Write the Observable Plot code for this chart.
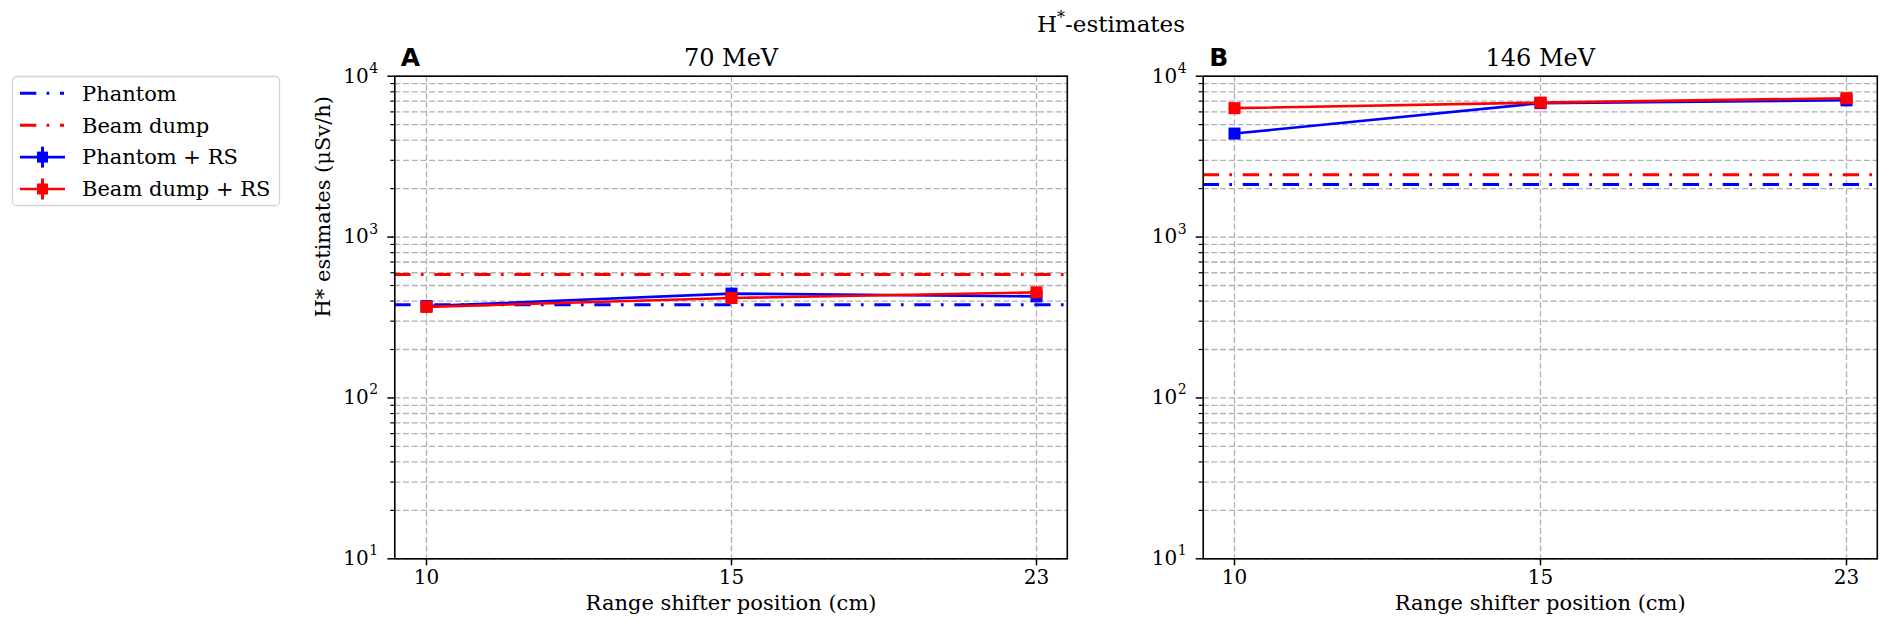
<!DOCTYPE html>
<html>
<head>
<meta charset="utf-8">
<script src="https://cdn.jsdelivr.net/npm/d3@7"></script>
<script src="https://cdn.jsdelivr.net/npm/@observablehq/plot@0.6"></script>
<style>
  body { margin: 0; background: white; }
  #page { position: relative; width: 1890px; height: 632px; font-family: "DejaVu Serif", serif; }
  #page > div, #page > svg { position: absolute; top: 0; }
</style>
</head>
<body>
<div id="page"></div>
<script>
// range shifter positions (categorical ticks)
const positions = ["10", "15", "23"];

// 70 MeV
const phantom70 = 380;
const beamDump70 = 586;
const phantomRS70 = [372, 445, 428];
const phantomRS70Err = [30, 36, 34];
const beamDumpRS70 = [368, 418, 453];
const beamDumpRS70Err = [32, 34, 36];

// 146 MeV
const phantom146 = 2120;
const beamDump146 = 2440;
const phantomRS146 = [4400, 6800, 7080];
const phantomRS146Err = [300, 450, 480];
const beamDumpRS146 = [6330, 6850, 7300];
const beamDumpRS146Err = [420, 460, 500];

const majorTicks = [10, 100, 1000, 10000];
const exponents = ["1", "2", "3", "4"];
const minorTicks = [10, 100, 1000].flatMap(k => [2, 3, 4, 5, 6, 7, 8, 9].map(m => m * k));

const dashDot = "16.3,10.3,2.7,10.7";
const gridStyle = {stroke: "#b0b0b0", strokeOpacity: 1, strokeWidth: 1.3, strokeDasharray: "6,2.7"};

function rows(vals, errs) {
  return positions.map((p, i) => ({pos: p, v: vals[i], lo: vals[i] - errs[i], hi: vals[i] + errs[i]}));
}

function series(data, color) {
  return [
    Plot.line(data, {x: "pos", y: "v", stroke: color, strokeWidth: 2.6}),
    Plot.ruleX(data, {x: "pos", y1: "lo", y2: "hi", stroke: color, strokeWidth: 2.6}),
    Plot.dot(data, {x: "pos", y: "v", symbol: "square", r: 6.8, fill: color, stroke: "none"})
  ];
}

function panel(cfg) {
  const blue = rows(cfg.phRS, cfg.phErr);
  const red = rows(cfg.bdRS, cfg.bdErr);
  const marks = [
    Plot.gridY(minorTicks.concat(majorTicks), gridStyle),
    Plot.gridX(positions, gridStyle),
    Plot.ruleY([cfg.phantom], {stroke: "blue", strokeWidth: 3, strokeDasharray: dashDot}),
    Plot.ruleY([cfg.beamDump], {stroke: "red", strokeWidth: 3, strokeDasharray: dashDot}),
    ...series(blue, "blue"),
    ...series(red, "red"),
    Plot.frame({stroke: "black", strokeWidth: 1.6}),
    Plot.axisY(majorTicks, {tickSize: 7, tickFormat: () => "", strokeWidth: 1.5, label: null}),
    Plot.axisY(minorTicks, {tickSize: 4, tickFormat: () => "", strokeWidth: 1.2, label: null}),
    // y tick labels as 10 with a superscript exponent
    Plot.text(majorTicks, {y: d => d, frameAnchor: "left", text: () => "10", textAnchor: "end", dx: -26, lineAnchor: "middle", fontSize: 20}),
    Plot.text(majorTicks, {y: d => d, frameAnchor: "left", text: (d, i) => exponents[i], textAnchor: "start", dx: -25.5, dy: -8, lineAnchor: "middle", fontSize: 14}),
    Plot.axisX(positions, {tickSize: 7, tickPadding: 4, strokeWidth: 1.5, label: null, fontSize: 20}),
    Plot.text([cfg.title], {frameAnchor: "top", dy: -10.5, lineAnchor: "bottom", fontSize: 24}),
    Plot.text([cfg.letter], {frameAnchor: "top-left", textAnchor: "start", dx: 6, dy: -10.5, lineAnchor: "bottom",
      fontSize: 25, fontWeight: "bold", fontFamily: "DejaVu Sans"}),
    Plot.text(["Range shifter position (cm)"], {frameAnchor: "bottom", dy: 44, lineAnchor: "middle"})
  ];
  if (cfg.yLabel) {
    marks.push(Plot.text([cfg.yLabel], {frameAnchor: "left", rotate: -90, dx: -71.6, lineAnchor: "middle"}));
  }
  return Plot.plot({
    width: cfg.width,
    height: 632,
    marginLeft: cfg.ml,
    marginRight: cfg.mr,
    marginTop: 75.7,
    marginBottom: 73.7,
    x: {type: "point", domain: positions, padding: 0.1, axis: null},
    y: {type: "log", domain: [10, 10000], axis: null},
    style: {fontFamily: "'DejaVu Serif', serif", fontSize: "21px", background: "transparent", overflow: "visible", color: "black"},
    marks
  });
}

const page = d3.select("#page");

const chartA = panel({
  title: "70 MeV", letter: "A", yLabel: "H* estimates (μSv/h)",
  phantom: phantom70, beamDump: beamDump70,
  phRS: phantomRS70, phErr: phantomRS70Err, bdRS: beamDumpRS70, bdErr: beamDumpRS70Err,
  width: 790, ml: 94.3, mr: 23.2
});
const chartB = panel({
  title: "146 MeV", letter: "B", yLabel: null,
  phantom: phantom146, beamDump: beamDump146,
  phRS: phantomRS146, phErr: phantomRS146Err, bdRS: beamDumpRS146, bdErr: beamDumpRS146Err,
  width: 780, ml: 92.7, mr: 13.2
});

page.append("div").style("left", "300px").append(() => chartA);
page.append("div").style("left", "1110px").append(() => chartB);

// suptitle and legend
const over = page.append("svg").attr("width", 1890).attr("height", 632)
  .style("pointer-events", "none")
  .style("font-family", "'DejaVu Serif', serif");

const title = over.append("text").attr("x", 1111).attr("y", 32).attr("text-anchor", "middle").attr("font-size", 23);
title.append("tspan").text("H");
title.append("tspan").attr("dy", -9).attr("font-size", 16).text("*");
title.append("tspan").attr("dy", 9).text("-estimates");

const legendItems = [
  {label: "Phantom", color: "blue", kind: "dash"},
  {label: "Beam dump", color: "red", kind: "dash"},
  {label: "Phantom + RS", color: "blue", kind: "marker"},
  {label: "Beam dump + RS", color: "red", kind: "marker"}
];

over.append("rect").attr("x", 12.5).attr("y", 76.5).attr("width", 267).attr("height", 129).attr("rx", 4)
  .attr("fill", "white").attr("stroke", "#d4d4d4").attr("stroke-width", 1.3);

legendItems.forEach((it, i) => {
  const y = 93.3 + i * 31.9;
  const g = over.append("g");
  if (it.kind === "dash") {
    g.append("line").attr("x1", 20).attr("x2", 64).attr("y1", y).attr("y2", y)
      .attr("stroke", it.color).attr("stroke-width", 3).attr("stroke-dasharray", dashDot);
  } else {
    g.append("line").attr("x1", 20).attr("x2", 65).attr("y1", y).attr("y2", y)
      .attr("stroke", it.color).attr("stroke-width", 2.6);
    g.append("line").attr("x1", 42.5).attr("x2", 42.5).attr("y1", y - 10.5).attr("y2", y + 10.5)
      .attr("stroke", it.color).attr("stroke-width", 3);
    g.append("rect").attr("x", 37).attr("y", y - 5.5).attr("width", 11).attr("height", 11).attr("fill", it.color);
  }
  g.append("text").attr("x", 82).attr("y", y).attr("dy", "0.35em").attr("font-size", 21).text(it.label);
});
</script>
</body>
</html>
